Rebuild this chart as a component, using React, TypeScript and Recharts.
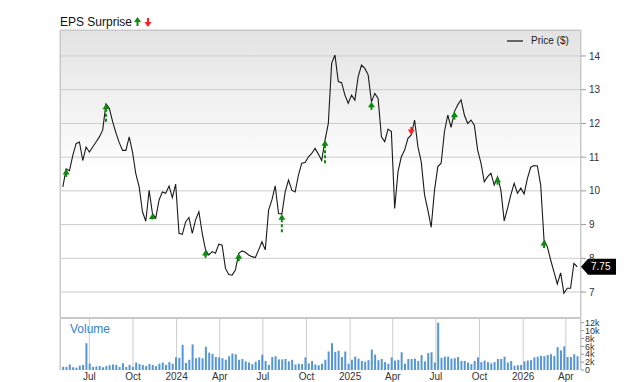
import React from "react";
import { ComposedChart, Line, Bar, Scatter, XAxis, YAxis, CartesianGrid, ReferenceLine } from "recharts";

const FONT = '"Liberation Sans", Arial, Helvetica, sans-serif';
const DAY = 86400000;

// weekly closes, first week ending 2023-05-06
const firstWeek = Date.UTC(2023, 4, 6);
const prices = [
  10.12, 10.65, 10.6, 11.05, 11.4, 11.45, 10.9, 11.3, 11.15, 11.3,
  11.45, 11.6, 11.8, 12.58, 12.45, 12.05, 11.72, 11.43, 11.2, 11.2,
  11.6, 11.15, 10.5, 10.12, 9.38, 9.1, 10.02, 9.33, 9.19, 9.73,
  9.97, 9.93, 10.14, 9.8, 10.2, 8.74, 8.71, 9.08, 9.21, 8.74,
  9.14, 9.38, 8.74, 8.25, 8.1, 8.2, 8.15, 8.42, 8.39, 7.7,
  7.52, 7.5, 7.65, 8.15, 8.22, 8.18, 8.1, 8.05, 8.02, 8.25,
  8.49, 8.25, 9.43, 9.73, 10.15, 9.33, 9.31, 9.97, 10.32, 10.02,
  9.97, 10.47, 10.82, 10.84, 11.01, 11.11, 11.26, 11.09, 10.9,
  11.5, 12.0, 13.78, 14.03, 13.24, 13.21, 12.84, 12.6, 12.84, 12.69,
  13.39, 13.73, 13.63, 13.44, 12.64, 12.89, 12.74, 11.6, 11.46, 11.83,
  11.76, 9.48, 10.57, 11.01, 11.21, 11.56, 11.66, 12.1, 11.31, 10.86,
  9.88, 9.43, 8.92, 10.02, 10.72, 10.82, 11.76, 12.25, 11.88,
  12.35, 12.55, 12.7, 12.25, 12.0, 12.1, 11.95, 11.21, 10.82, 10.27,
  10.42, 10.52, 10.17, 10.42, 10.02, 9.11, 9.48, 9.88, 10.22, 9.93,
  10.08, 9.91, 10.37, 10.7, 10.75, 10.74, 10.17, 8.54, 8.34, 7.95,
  7.6, 7.24, 7.57, 6.96, 7.11, 7.11, 7.85, 7.75,
];

// weekly volume, thousands of shares
const volumes = [
  0.8, 0.8, 1.4, 0.7, 0.6, 1.1, 1.3, 6.8,
  1.6, 0.8, 0.9, 1.0, 0.7, 1.0, 1.2, 1.4, 1.3, 0.8, 1.7, 0.8, 1.3,
  0.8, 1.9, 1.5, 1.3, 1.0, 1.5, 1.3, 1.0, 1.6, 1.9, 1.3, 2.0, 1.6,
  3.2, 3.1,
  6.4, 1.8, 2.6, 6.5, 3.0, 3.2, 3.0, 5.9, 4.4, 4.1, 3.3, 3.2, 3.0, 2.6, 3.5, 4.2, 4.0, 2.6, 2.8, 2.2, 1.9, 1.5, 2.1, 2.5,
  3.9, 2.3, 1.3, 3.3, 3.5, 2.7, 2.7, 2.8, 2.2, 2.6, 1.4, 1.6, 1.5, 3.2, 1.7, 2.3, 1.4, 1.2, 1.6, 2.6,
  4.7, 6.8, 4.6, 4.9, 3.3, 4.7, 1.6, 2.6, 3.4, 2.9, 2.3, 2.1, 2.5, 5.2, 3.9, 2.5, 2.8, 2.0, 1.6, 3.2,
  2.4, 2.6, 4.5, 1.6, 2.8, 2.8, 2.9, 2.3, 3.8, 2.2, 4.3, 4.5, 1.9, 12.0, 3.1, 3.4, 3.4, 2.9, 3.0, 3.3,
  2.3, 2.3, 1.9, 1.5, 2.3, 3.2, 2.0, 2.4, 2.0, 1.7, 2.0, 2.8, 2.8, 3.4, 1.9, 2.3,
  1.1, 1.2, 1.3, 2.2, 2.4, 2.5, 3.2, 3.4, 3.6,
  3.5, 3.8, 4.0, 3.6, 5.8, 5.0, 6.0, 3.3, 3.3, 4.0, 3.5,
];

// earnings reports: week index and surprise (%)
const epsWeeks = [1, 13, 27, 43, 53, 66, 79, 93, 105, 118, 131, 145];
const epsSurprise = [9, 19, 6, 9, 9, 18, 23, 8, -8, 9, 8, 8];

const quarterStarts = [
  Date.UTC(2023, 6, 1), Date.UTC(2023, 9, 1), Date.UTC(2024, 0, 1), Date.UTC(2024, 3, 1),
  Date.UTC(2024, 6, 1), Date.UTC(2024, 9, 1), Date.UTC(2025, 0, 1), Date.UTC(2025, 3, 1),
  Date.UTC(2025, 6, 1), Date.UTC(2025, 9, 1), Date.UTC(2026, 0, 1), Date.UTC(2026, 3, 1),
];
const quarterLabels = ["Jul", "Oct", "2024", "Apr", "Jul", "Oct", "2025", "Apr", "Jul", "Oct", "2026", "Apr"];
const priceTicks = [7, 8, 9, 10, 11, 12, 13, 14];
const volumeTicks = [0, 2, 4, 6, 8, 10, 12];

const xDomain = [Date.UTC(2023, 3, 30), Date.UTC(2026, 4, 3)];

const rows = prices.map((p, i) => ({ t: firstWeek + i * 7 * DAY, price: p, volume: volumes[i] }));
const epsRows = epsWeeks.map((w, k) => ({ t: firstWeek + w * 7 * DAY, price: prices[w], surprise: epsSurprise[k] }));
const lastPrice = prices[prices.length - 1];

const tickStyle = { fill: "#333", fontSize: 10, fontFamily: FONT };

const EpsArrow = (props: any) => {
  const { cx, cy, payload } = props;
  if (cx == null || cy == null) return null;
  const up = payload.surprise > 0;
  const c = up ? "#0b8a0b" : "#ff1f1f";
  const d = up ? 1 : -1;
  const len = Math.abs(payload.surprise);
  return (
    <g>
      <line x1={cx} x2={cx} y1={cy + d * 5} y2={cy + d * len} stroke={c} strokeWidth={2} strokeDasharray="3 2" />
      <path d={`M${cx},${cy} L${cx + 3.5},${cy + d * 5.5} L${cx - 3.5},${cy + d * 5.5} Z`} fill={c} />
    </g>
  );
};

const PriceTag = (props: any) => {
  const vb = props.viewBox || {};
  const x = vb.x + vb.width;
  const y = vb.y;
  return (
    <g>
      <path d={`M${x},${y} L${x + 7},${y - 8} L${x + 35},${y - 8} L${x + 35},${y + 8} L${x + 7},${y + 8} Z`} fill="#000" />
      <text x={x + 10} y={y} dy="0.36em" fill="#fff" fontSize={10} fontFamily={FONT}>
        {lastPrice.toFixed(2)}
      </text>
    </g>
  );
};

export default function App() {
  return (
    <div style={{ position: "absolute", left: 0, top: 0, width: 640, height: 382, background: "#fff", fontFamily: FONT, overflow: "hidden" }}>
      <div style={{ position: "absolute", left: 0, top: 0 }}>
        <ComposedChart width={640} height={320} data={rows} margin={{ top: 30, right: 0, bottom: 2, left: 60 }}>
          <defs>
            <linearGradient id="priceBg" x1="0" y1="0" x2="0" y2="1">
              <stop offset="0" stopColor="#e3e3e3" />
              <stop offset="0.5" stopColor="#ffffff" />
            </linearGradient>
          </defs>
          <CartesianGrid stroke="#cccccc" fill="url(#priceBg)" fillOpacity={1} />
          <XAxis dataKey="t" type="number" domain={xDomain} ticks={quarterStarts} allowDataOverflow height={0} tick={false} axisLine={false} tickLine={false} />
          <YAxis orientation="right" width={59} domain={[6.23, 14.77]} ticks={priceTicks} allowDataOverflow interval={0}
            tickSize={5} tickMargin={3} axisLine={false} tickLine={{ stroke: "#999" }} tick={tickStyle} />
          <Line dataKey="price" type="linear" stroke="#1a1a1a" strokeWidth={1.1} dot={false} activeDot={false} isAnimationActive={false} />
          <Scatter data={epsRows} dataKey="price" shape={EpsArrow} isAnimationActive={false} />
          <ReferenceLine y={lastPrice} stroke="none" label={(p: any) => <PriceTag {...p} />} />
        </ComposedChart>
      </div>

      <div style={{ position: "absolute", left: 0, top: 318 }}>
        <ComposedChart width={640} height={64} data={rows} margin={{ top: 1, right: 0, bottom: 0, left: 60 }}>
          <CartesianGrid stroke="#cccccc" horizontal={false} />
          <XAxis dataKey="t" type="number" domain={xDomain} ticks={quarterStarts} allowDataOverflow interval={0} height={12}
            tickSize={0} tickMargin={3} axisLine={false} tick={tickStyle}
            tickFormatter={(v: number) => quarterLabels[quarterStarts.indexOf(v)]} />
          <YAxis orientation="right" width={59} domain={[0, 12.95]} ticks={volumeTicks} allowDataOverflow interval={0}
            tickSize={3} tickMargin={1} axisLine={false} tickLine={{ stroke: "#999" }}
            tick={{ fill: "#333", fontSize: 9, fontFamily: FONT }}
            tickFormatter={(v: number) => (v === 0 ? "0" : `${v}k`)} />
          <Bar dataKey="volume" fill="#5596d6" barSize={2} isAnimationActive={false} />
        </ComposedChart>
      </div>

      {/* panel frames */}
      <div style={{ position: "absolute", left: 60, top: 30, width: 521, height: 288, border: "1px solid #c8c8c8", boxSizing: "border-box", pointerEvents: "none" }} />
      <div style={{ position: "absolute", left: 60, top: 318, width: 521, height: 52, borderTop: "1px solid #c8c8c8", borderLeft: "1px solid #c8c8c8", borderRight: "1px solid #c8c8c8", boxSizing: "border-box", pointerEvents: "none" }} />

      {/* title */}
      <div style={{ position: "absolute", left: 60, top: 15, fontSize: 12, color: "#111", lineHeight: "14px", whiteSpace: "nowrap" }}>
        EPS Surprise
      </div>
      <svg style={{ position: "absolute", left: 133, top: 16 }} width={20} height={12}>
        <path d="M4.5,1 L8,6 L1,6 Z" fill="#0b8a0b" />
        <rect x={3.5} y={6} width={2} height={4} fill="#0b8a0b" />
        <path d="M15,11 L18.5,6 L11.5,6 Z" fill="#ff1f1f" />
        <rect x={14} y={2} width={2} height={4} fill="#ff1f1f" />
      </svg>

      {/* legend */}
      <svg style={{ position: "absolute", left: 505, top: 36 }} width={20} height={10}>
        <line x1={2} x2={18} y1={5} y2={5} stroke="#666" strokeWidth={2} />
      </svg>
      <div style={{ position: "absolute", left: 531, top: 35, fontSize: 10, color: "#222", lineHeight: "12px", whiteSpace: "nowrap" }}>
        Price ($)
      </div>

      <div style={{ position: "absolute", left: 70, top: 322, fontSize: 12, color: "#3a80c8", lineHeight: "14px" }}>
        Volume
      </div>
    </div>
  );
}
